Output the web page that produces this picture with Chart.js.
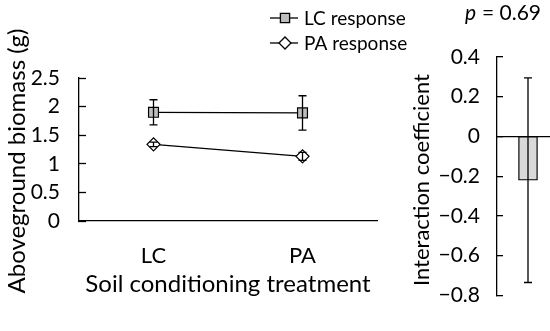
<!DOCTYPE html>
<html>
<head>
<meta charset="utf-8">
<script src="https://cdn.jsdelivr.net/npm/chart.js@4.4.1/dist/chart.umd.min.js"></script>
<style>
  html, body { margin: 0; padding: 0; background: #fff; overflow: hidden; }
  #wrap { position: relative; width: 550px; height: 331px; overflow: hidden; }
  #left { position: absolute; left: 0; top: 0; }
  #right { position: absolute; left: 400px; top: 0; }
</style>
</head>
<body>
<div id="wrap">
  <canvas id="left" width="420" height="331"></canvas>
  <canvas id="right" width="180" height="331"></canvas>
</div>
<script>
/* ---------- data ---------- */
const categories = ['LC', 'PA'];
const lcResponse = [1.90, 1.89];
const lcErr = [0.22, 0.30];
const paResponse = [1.34, 1.13];
const paErr = [0.04, 0.07];

const biomassTicks = [0, 0.5, 1, 1.5, 2, 2.5];

const interLabel = ['Interaction'];
const interValue = [-0.22];
const interLow = [-0.735];
const interHigh = [0.295];
const pText = '= 0.69';

const FONT = 'Lato, "Open Sans", sans-serif';
Chart.defaults.font.family = FONT;
Chart.defaults.color = '#000';
Chart.defaults.animation = false;

/* ---------- error bars (from dataset.errLow / errHigh) ---------- */
const errorBars = {
  id: 'errorBars',
  afterDatasetsDraw(chart, args, opts) {
    const ctx = chart.ctx;
    const y = chart.scales.y;
    chart.data.datasets.forEach((ds, i) => {
      if (!ds.errLow) return;
      const meta = chart.getDatasetMeta(i);
      meta.data.forEach((el, j) => {
        const x = el.x;
        const yTop = y.getPixelForValue(ds.errHigh[j]);
        const yBot = y.getPixelForValue(ds.errLow[j]);
        const cap = opts.cap || 4;
        ctx.save();
        ctx.strokeStyle = '#000';
        ctx.lineWidth = 1.3;
        ctx.beginPath();
        ctx.moveTo(x, yTop); ctx.lineTo(x, yBot);
        ctx.moveTo(x - cap, yTop); ctx.lineTo(x + cap, yTop);
        ctx.moveTo(x - cap, yBot); ctx.lineTo(x + cap, yBot);
        ctx.stroke();
        ctx.restore();
      });
    });
  }
};

/* ---------- rotated y title, placed by hand ---------- */
const yTitle = {
  id: 'yTitle',
  afterDraw(chart, args, opts) {
    const ctx = chart.ctx;
    ctx.save();
    ctx.translate(opts.x, opts.y);
    ctx.rotate(-Math.PI / 2);
    ctx.fillStyle = '#000';
    ctx.font = opts.size + 'px ' + FONT;
    ctx.textAlign = 'center';
    ctx.textBaseline = 'middle';
    ctx.fillText(opts.text, 0, 0);
    ctx.restore();
  }
};

/* ---------- legend with line + marker ---------- */
const lineLegend = {
  id: 'lineLegend',
  afterDraw(chart, args, opts) {
    const ctx = chart.ctx;
    chart.data.datasets.forEach((ds, i) => {
      const yy = opts.y + i * opts.gap;
      ctx.save();
      ctx.strokeStyle = '#000';
      ctx.lineWidth = 1.3;
      ctx.beginPath();
      ctx.moveTo(opts.x, yy); ctx.lineTo(opts.x + 28, yy);
      ctx.stroke();
      ctx.fillStyle = ds.pointBackgroundColor;
      Chart.helpers.drawPoint(ctx, {
        pointStyle: ds.pointStyle, radius: ds.pointRadius - 0.5, rotation: 0, borderWidth: 1.3
      }, opts.x + 15, yy);
      ctx.fillStyle = '#000';
      ctx.font = '19px ' + FONT;
      ctx.textBaseline = 'middle';
      ctx.fillText(ds.label, opts.x + 34, yy + 1);
      ctx.restore();
    });
  }
};

/* ---------- left: aboveground biomass ---------- */
new Chart(document.getElementById('left'), {
  type: 'line',
  data: {
    labels: categories,
    datasets: [
      {
        label: 'LC response',
        data: lcResponse,
        errLow: lcResponse.map((v, i) => v - lcErr[i]),
        errHigh: lcResponse.map((v, i) => v + lcErr[i]),
        borderColor: '#000',
        borderWidth: 1.3,
        pointStyle: 'rect',
        pointRadius: 7,
        pointBackgroundColor: '#bdbdbd',
        pointBorderColor: '#000',
        pointBorderWidth: 1.2
      },
      {
        label: 'PA response',
        data: paResponse,
        errLow: paResponse.map((v, i) => v - paErr[i]),
        errHigh: paResponse.map((v, i) => v + paErr[i]),
        borderColor: '#000',
        borderWidth: 1.3,
        pointStyle: 'rectRot',
        pointRadius: 6.5,
        pointBackgroundColor: '#fff',
        pointBorderColor: '#000',
        pointBorderWidth: 1.3
      }
    ]
  },
  options: {
    responsive: false,
    layout: { padding: { top: 78, right: 43, bottom: 0, left: 0 } },
    plugins: {
      legend: { display: false },
      tooltip: { enabled: false },
      errorBars: { cap: 4 },
      lineLegend: { x: 270, y: 18, gap: 25 },
      yTitle: { text: 'Aboveground biomass (g)', x: 17, y: 161, size: 24 }
    },
    scales: {
      x: {
        offset: true,
        afterFit: s => { s.height = 110; },
        grid: { display: true, drawOnChartArea: false, drawTicks: false },
        border: { color: '#000', width: 1.3 },
        ticks: { padding: 22, font: { size: 22 }, color: '#000' },
        title: {
          display: true, text: 'Soil conditioning treatment',
          font: { size: 24 }, color: '#000', padding: { top: 0, bottom: 32 }
        }
      },
      y: {
        min: 0, max: 2.5,
        afterFit: s => { s.width = 79; },
        afterBuildTicks: s => { s.ticks = biomassTicks.map(v => ({ value: v })); },
        grid: { drawOnChartArea: false, drawTicks: true, tickLength: -7, tickColor: '#000', tickWidth: 1.3 },
        border: { color: '#000', width: 1.3 },
        ticks: { padding: 26, font: { size: 21 }, color: '#000', callback: v => String(v) }
      }
    }
  },
  plugins: [errorBars, lineLegend, yTitle]
});

/* ---------- right: interaction coefficient ---------- */
const pLabel = {
  id: 'pLabel',
  afterDraw(chart) {
    const ctx = chart.ctx;
    ctx.save();
    ctx.fillStyle = '#000';
    ctx.textBaseline = 'middle';
    ctx.font = 'italic 21px ' + FONT;
    ctx.fillText('p', 65, 13);
    ctx.font = '21px ' + FONT;
    ctx.fillText(pText, 82, 13);
    ctx.restore();
  }
};

const fmtMinus = v => {
  const r = Math.round(v * 10) / 10;
  return r === 0 ? '0' : String(r).replace('-', '\u2212');
};

new Chart(document.getElementById('right'), {
  type: 'bar',
  data: {
    labels: interLabel,
    datasets: [{
      data: interValue,
      errLow: interLow,
      errHigh: interHigh,
      backgroundColor: '#d9d9d9',
      borderColor: '#000',
      borderWidth: 1.3,
      borderSkipped: false,
      barThickness: 19
    }]
  },
  options: {
    responsive: false,
    layout: { padding: { top: 57, right: 21, bottom: 16, left: 0 } },
    plugins: {
      legend: { display: false },
      tooltip: { enabled: false },
      errorBars: { cap: 4 },
      yTitle: { text: 'Interaction coefficient', x: 22, y: 180, size: 22 }
    },
    scales: {
      x: { display: false, offset: true },
      y: {
        min: -0.8, max: 0.4,
        afterFit: s => { s.width = 97; },
        ticks: { stepSize: 0.2, padding: 23, font: { size: 21 }, color: '#000', callback: fmtMinus },
        grid: {
          drawOnChartArea: true, drawTicks: true, tickLength: -6, tickColor: '#000', tickWidth: 1.3,
          color: c => (c.tick && Math.abs(c.tick.value) < 1e-9 ? '#000' : 'rgba(0,0,0,0)'),
          lineWidth: 1.3
        },
        border: { color: '#000', width: 1.3 }
      }
    }
  },
  plugins: [errorBars, pLabel, yTitle]
});
</script>
</body>
</html>
